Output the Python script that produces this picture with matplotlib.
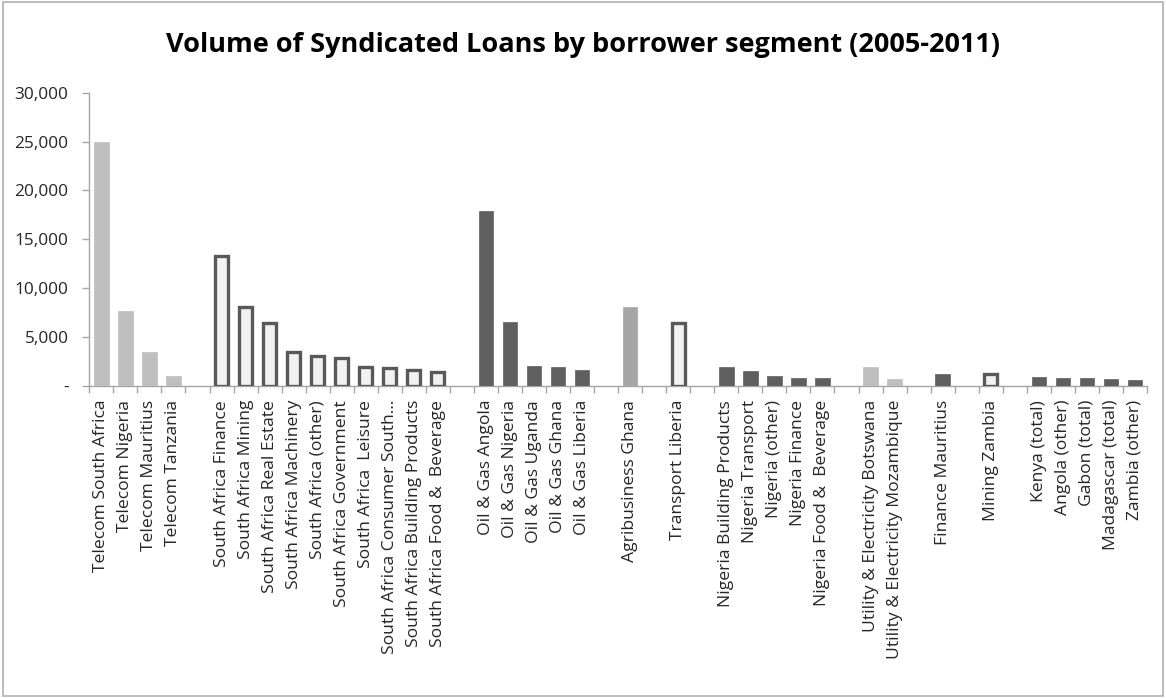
import matplotlib.pyplot as plt
import numpy as np
from matplotlib.patches import Rectangle

# syndicated loan volume per borrower segment, grouped by sector
telecom_labels = ["Telecom South Africa", "Telecom Nigeria", "Telecom Mauritius", "Telecom Tanzania"]
telecom_values = [25000, 7700, 3480, 1060]

sa_labels = ["South Africa Finance", "South Africa Mining", "South Africa Real Estate",
             "South Africa Machinery", "South Africa (other)", "South Africa Government",
             "South Africa  Leisure", "South Africa Consumer South\u2026",
             "South Africa Building Products", "South Africa Food &  Beverage"]
sa_values = [13250, 8100, 6400, 3520, 3100, 2900, 1900, 1800, 1600, 1400]

oil_labels = ["Oil & Gas Angola", "Oil & Gas Nigeria", "Oil & Gas Uganda",
              "Oil & Gas Ghana", "Oil & Gas Liberia"]
oil_values = [17900, 6500, 2080, 1900, 1670]

agri_labels = ["Agribusiness Ghana"]
agri_values = [8100]

transport_labels = ["Transport Liberia"]
transport_values = [6450]

nigeria_labels = ["Nigeria Building Products", "Nigeria Transport", "Nigeria (other)",
                  "Nigeria Finance", "Nigeria Food &  Beverage"]
nigeria_values = [1900, 1500, 1060, 850, 850]

utility_labels = ["Utility & Electricity Botswana", "Utility & Electricity Mozambique"]
utility_values = [1900, 720]

finance_labels = ["Finance Mauritius"]
finance_values = [1260]

mining_labels = ["Mining Zambia"]
mining_values = [1200]

other_labels = ["Kenya (total)", "Angola (other)", "Gabon (total)",
                "Madagascar (total)", "Zambia (other)"]
other_values = [950, 850, 850, 720, 610]

# bar look for each kind of segment
looks = {
    "light": dict(color="#bfbfbf", edgecolor="#bfbfbf", linewidth=0.5),
    "mid": dict(color="#a6a6a6", edgecolor="#a6a6a6", linewidth=0.5),
    "dark": dict(color="#5f5f5f", edgecolor="#5f5f5f", linewidth=0.5),
    "outline": dict(color="#f2f2f2", edgecolor="#595959", linewidth=2.4),
}

groups = [
    (telecom_labels, telecom_values, "light"),
    (sa_labels, sa_values, "outline"),
    (oil_labels, oil_values, "dark"),
    (agri_labels, agri_values, "mid"),
    (transport_labels, transport_values, "outline"),
    (nigeria_labels, nigeria_values, "dark"),
    (utility_labels, utility_values, "light"),
    (finance_labels, finance_values, "dark"),
    (mining_labels, mining_values, "outline"),
    (other_labels, other_values, "dark"),
]

plt.rcParams['font.family'] = ['Open Sans', 'DejaVu Sans']

fig = plt.figure(figsize=(11.66, 6.98), dpi=100)
ax = fig.add_axes([0.0766, 0.447, 0.9071, 0.4202])

# chart area frame
fig.patches.append(Rectangle((0.003, 0.003), 0.994, 0.994, transform=fig.transFigure,
                             fill=False, edgecolor="#b0b0b0", linewidth=1.2))

tick_pos = []
tick_lab = []
slot = 0
for labels, values, look in groups:
    x = np.arange(slot, slot + len(values))
    w = 0.55 if look == "outline" else 0.6
    ax.bar(x, values, width=w, **looks[look], zorder=3)
    tick_pos.extend(x)
    tick_lab.extend(labels)
    slot += len(values) + 1  # empty slot between sectors
n_slots = slot - 1

ax.set_xlim(-0.5, n_slots - 0.5)
ax.set_ylim(0, 30000)

ax.set_xticks(tick_pos)
ax.set_xticklabels(tick_lab, rotation=90, fontsize=12.6, color="#262626")
ax.set_xticks(np.arange(-0.5, n_slots, 1.0), minor=True)
ax.tick_params(axis="x", which="major", length=0, pad=10)
ax.tick_params(axis="x", which="minor", length=5, width=1, color="#a6a6a6", direction="out")

yt = np.arange(0, 30001, 5000)
ax.set_yticks(yt)
ax.set_yticklabels(["-"] + [f"{v:,}" for v in yt[1:]], fontsize=12.4, color="#262626")
ax.tick_params(axis="y", length=5, width=1, color="#a6a6a6", direction="out", pad=10)

for s in ["top", "right"]:
    ax.spines[s].set_visible(False)
for s in ["left", "bottom"]:
    ax.spines[s].set_color("#a6a6a6")
    ax.spines[s].set_linewidth(1)

fig.text(0.5, 0.935, "Volume of Syndicated Loans by borrower segment (2005-2011)",
         ha="center", va="center", fontsize=19.5, fontweight="bold",
         family=['Liberation Sans Narrow', 'Open Sans', 'DejaVu Sans'], color="black")

fig.savefig("out.png", dpi=100)
